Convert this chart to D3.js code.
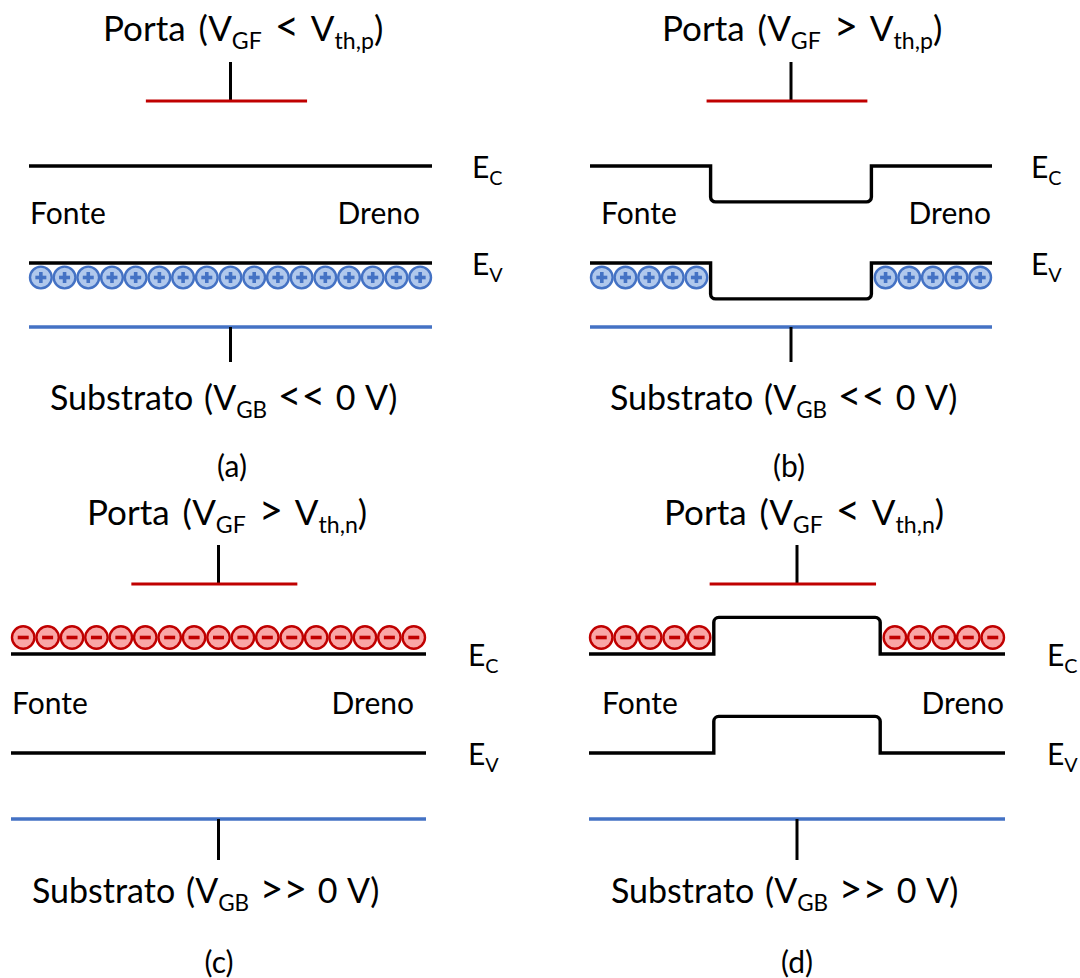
<!DOCTYPE html>
<html>
<head>
<meta charset="utf-8">
<script src="https://cdn.jsdelivr.net/npm/d3@7/dist/d3.min.js"></script>
<style>
  html, body { margin: 0; padding: 0; background: #fff; }
  svg { display: block; font-family: Lato, "Open Sans", sans-serif; }
</style>
</head>
<body>
<svg id="fig" width="1080" height="978"></svg>
<script>
// ---- band-diagram data -------------------------------------------------
const panelIds = ["a", "b", "c", "d"];
// gate condition, as text segments (1 = subscript, 2 = relation symbol)
const gateConditions = [
  [["Porta (V"], ["GF", 1], [" "], ["<", 2], [" V"], ["th,p", 1], [")"]],
  [["Porta (V"], ["GF", 1], [" "], [">", 2], [" V"], ["th,p", 1], [")"]],
  [["Porta (V"], ["GF", 1], [" "], [">", 2], [" V"], ["th,n", 1], [")"]],
  [["Porta (V"], ["GF", 1], [" "], ["<", 2], [" V"], ["th,n", 1], [")"]]
];
const substrateBias = ["<<", "<<", ">>", ">>"];
// normalised energy levels of the band edges
const levelEc = 1;
const levelEv = 0;
// band shift under the gate (same units as the levels)
const channelShift = [0, -0.37, 0, 0.37];
// channel region along the source-drain axis (0 = source, 1 = drain)
const channelSpan = [0.3, 0.7];
const gateSpan = [0.29, 0.69];
// free carriers: kind and occupied slots (17 slots along the device)
const slotCount = 17;
const carrierKind = ["hole", "hole", "electron", "electron"];
const carrierSlots = [
  [0, 1, 2, 3, 4, 5, 6, 7, 8, 9, 10, 11, 12, 13, 14, 15, 16],
  [0, 1, 2, 3, 4, 12, 13, 14, 15, 16],
  [0, 1, 2, 3, 4, 5, 6, 7, 8, 9, 10, 11, 12, 13, 14, 15, 16],
  [0, 1, 2, 3, 4, 12, 13, 14, 15, 16]
];
const sideLabels = ["Fonte", "Dreno"];
const bandLabels = [["E", "C"], ["E", "V"]];

// ---- layout ------------------------------------------------------------
const rows = [
  { ec: 166, ev: 263, gate: 101, gateStub: 62, sub: 327, subStub: 362,
    titleY: 41, sideY: 224, subTextY: 410, capY: 477 },
  { ec: 654, ev: 753, gate: 584, gateStub: 545, sub: 819, subStub: 860,
    titleY: 525, sideY: 714, subTextY: 903, capY: 973 }
];
const layout = [
  { row: 0, x0: 29,  x1: 432,  titleX: 103, fonteX: 30,  drenoX: 420,  eX: 472,  subX: 50,  capX: 232 },
  { row: 0, x0: 590, x1: 992,  titleX: 662, fonteX: 601, drenoX: 991,  eX: 1031, subX: 610, capX: 789 },
  { row: 1, x0: 11,  x1: 426,  titleX: 87,  fonteX: 12,  drenoX: 414,  eX: 468,  subX: 32,  capX: 219 },
  { row: 1, x0: 589, x1: 1005, titleX: 664, fonteX: 602, drenoX: 1004, eX: 1047, subX: 611, capX: 797 }
];

const COL = {
  band: "#000000",
  gate: "#c00000",
  sub: "#4472c4",
  holeFill: "#b0c8ec",
  holeStroke: "#4472c4",
  elecFill: "#f9a6a6",
  elecStroke: "#c00000"
};

const svg = d3.select("#fig");

// text with subscripts and enlarged relation symbols
function richText(g, x, y, segs, size, anchor, wordSpacing) {
  const t = g.append("text")
    .attr("x", x).attr("y", y)
    .attr("font-size", size)
    .attr("fill", "#000")
    .attr("text-anchor", anchor || "start")
    .attr("word-spacing", wordSpacing || 0)
    .attr("xml:space", "preserve");
  let shifted = false;
  const drop = size * 0.24;
  segs.forEach(([s, kind]) => {
    const ts = t.append("tspan").text(s);
    const sub = kind === 1;
    if (sub && !shifted) { ts.attr("dy", drop); shifted = true; }
    else if (!sub && shifted) { ts.attr("dy", -drop); shifted = false; }
    if (sub) ts.attr("font-size", size * 0.66);
    if (kind === 2) ts.attr("font-size", size * 1.2);
  });
  return t;
}

// band edge with a rectangular step under the gate; corners on the
// shifted level are rounded
function bandPath(x, y, level, shift) {
  const p = d3.path();
  const r = 5;
  const xa = x(channelSpan[0]), xb = x(channelSpan[1]);
  const y0 = y(level), y1 = y(level + shift);
  p.moveTo(x(0), y0);
  if (shift === 0) { p.lineTo(x(1), y0); return p.toString(); }
  p.lineTo(xa, y0);
  p.arcTo(xa, y1, xa + r, y1, r);
  p.arcTo(xb, y1, xb, y0, r);
  p.lineTo(xb, y0);
  p.lineTo(x(1), y0);
  return p.toString();
}

panelIds.forEach((id, i) => {
  const L = layout[i];
  const R = rows[L.row];
  const g = svg.append("g").attr("class", "panel-" + id);

  const x = d3.scaleLinear().domain([0, 1]).range([L.x0, L.x1]);
  const y = d3.scaleLinear().domain([levelEv, levelEc]).range([R.ev, R.ec]);
  const slot = d3.scaleBand().domain(d3.range(slotCount)).range([L.x0, L.x1]);

  // gate electrode
  richText(g, L.titleX, R.titleY, gateConditions[i], 35, "start", 4);
  g.append("line")
    .attr("x1", x(0.5)).attr("x2", x(0.5))
    .attr("y1", R.gateStub).attr("y2", R.gate)
    .attr("stroke", "#000").attr("stroke-width", 3);
  g.append("line")
    .attr("x1", x(gateSpan[0])).attr("x2", x(gateSpan[1]))
    .attr("y1", R.gate).attr("y2", R.gate)
    .attr("stroke", COL.gate).attr("stroke-width", 3);

  // carriers
  const kind = carrierKind[i];
  const cy = kind === "hole" ? y(levelEv) + 14.5 : y(levelEc) - 16.5;
  const rad = slot.bandwidth() / 2 - 1;
  const c = g.selectAll("g.carrier").data(carrierSlots[i]).join("g")
    .attr("class", "carrier")
    .attr("transform", d => `translate(${slot(d) + slot.bandwidth() / 2},${cy})`);
  c.append("circle")
    .attr("r", rad)
    .attr("fill", kind === "hole" ? COL.holeFill : COL.elecFill)
    .attr("stroke", kind === "hole" ? COL.holeStroke : COL.elecStroke)
    .attr("stroke-width", 2.4);
  const sc = kind === "hole" ? COL.holeStroke : COL.elecStroke;
  c.append("line").attr("x1", -5.5).attr("x2", 5.5).attr("y1", 0).attr("y2", 0)
    .attr("stroke", sc).attr("stroke-width", 3.6);
  if (kind === "hole") {
    c.append("line").attr("x1", 0).attr("x2", 0).attr("y1", -5.5).attr("y2", 5.5)
      .attr("stroke", sc).attr("stroke-width", 3.6);
  }

  // band edges
  [levelEc, levelEv].forEach(lv => {
    g.append("path")
      .attr("d", bandPath(x, y, lv, channelShift[i]))
      .attr("fill", "none").attr("stroke", COL.band)
      .attr("stroke-width", 3.4).attr("stroke-linejoin", "miter");
  });
  richText(g, L.eX, y(levelEc) + 12, [[bandLabels[0][0]], [bandLabels[0][1], 1]], 30);
  richText(g, L.eX, y(levelEv) + 12, [[bandLabels[1][0]], [bandLabels[1][1], 1]], 30);

  // source / drain labels
  g.append("text").attr("x", L.fonteX).attr("y", R.sideY)
    .attr("font-size", 30).text(sideLabels[0]);
  g.append("text").attr("x", L.drenoX).attr("y", R.sideY)
    .attr("font-size", 30).attr("text-anchor", "end").text(sideLabels[1]);

  // substrate contact
  g.append("line")
    .attr("x1", x(0)).attr("x2", x(1))
    .attr("y1", R.sub).attr("y2", R.sub)
    .attr("stroke", COL.sub).attr("stroke-width", 3.4);
  g.append("line")
    .attr("x1", x(0.5)).attr("x2", x(0.5))
    .attr("y1", R.sub).attr("y2", R.subStub)
    .attr("stroke", "#000").attr("stroke-width", 3);
  richText(g, L.subX, R.subTextY,
    [["Substrato (V"], ["GB", 1], [" "], [substrateBias[i], 2], [" 0 V)"]], 34, "start", 2);

  // panel caption
  g.append("text").attr("x", L.capX).attr("y", R.capY)
    .attr("font-size", 30).attr("text-anchor", "middle")
    .text("(" + id + ")");
});
</script>
</body>
</html>
